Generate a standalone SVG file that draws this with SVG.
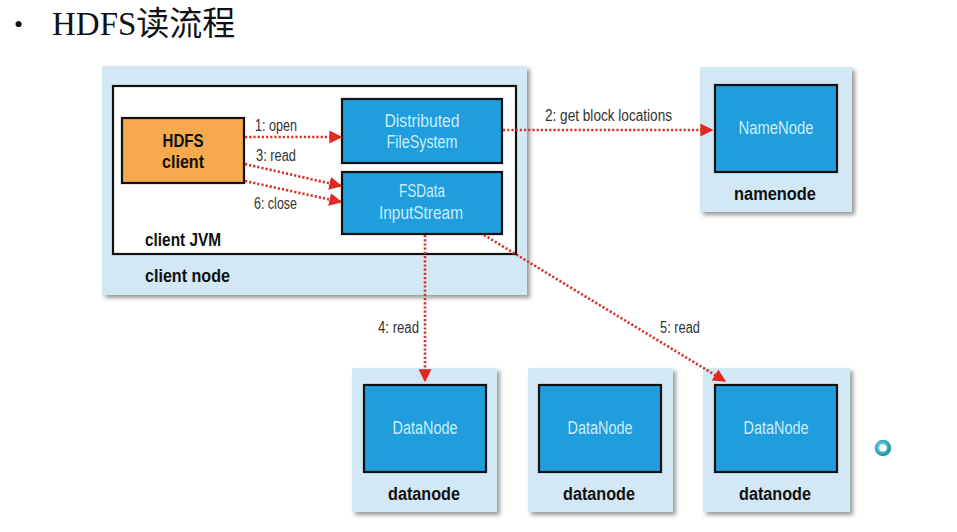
<svg xmlns="http://www.w3.org/2000/svg" width="957" height="532" viewBox="0 0 957 532">
<style>
.outer{fill:#d3e8f5;filter:url(#sh)}
.inner{fill:#1f9ddd;stroke:#111;stroke-width:2.2}
.itxt{font-family:"Liberation Sans",sans-serif;font-size:18px;fill:#c9eefb;text-anchor:middle}
.btxt{font-family:"Liberation Sans",sans-serif;font-size:18px;font-weight:bold;fill:#111}
.lbl{font-family:"Liberation Sans",sans-serif;font-size:16px;fill:#333}
.conn{stroke:#d8322c;stroke-width:2.6;stroke-dasharray:2.2 2;fill:none;marker-end:url(#ah)}
</style>
<defs>
<filter id="sh" x="-10%" y="-10%" width="130%" height="130%">
<feDropShadow dx="3" dy="3" stdDeviation="2" flood-color="#555" flood-opacity="0.6"/>
</filter>
<marker id="ah" viewBox="0 0 10 10" refX="9" refY="5" markerWidth="5" markerHeight="5" orient="auto" markerUnits="strokeWidth">
<path d="M0,0 L10,5 L0,10 z" fill="#e0291f"/>
</marker>
<radialGradient id="ring" cx="0.4" cy="0.4" r="0.7">
<stop offset="0" stop-color="#9fe3e8"/>
<stop offset="1" stop-color="#1a9aa8"/>
</radialGradient>
</defs>
<rect width="957" height="532" fill="#ffffff"/>

<g id="title">
<text x="14" y="33" font-family="Liberation Serif,serif" font-size="26" fill="#111">•</text>
<text x="52" y="35" font-family="'Liberation Serif','Noto Sans CJK SC',serif" font-size="33" fill="#111">HDFS读流程</text>
</g>

<g id="client-node">
<rect class="outer" x="102" y="66" width="425" height="229"/>
<text class="btxt" x="145" y="282" textLength="85" lengthAdjust="spacingAndGlyphs">client node</text>
</g>
<g id="client-jvm">
<rect x="113" y="86" width="403" height="168" fill="#fff" stroke="#111" stroke-width="2.2"/>
<text class="btxt" x="145" y="246" textLength="76" lengthAdjust="spacingAndGlyphs">client JVM</text>
</g>
<g id="hdfs-client">
<rect x="122" y="118" width="122" height="65" fill="#f7a94d" stroke="#111" stroke-width="2.2"/>
<text class="btxt" x="183" y="147" text-anchor="middle" fill="#2a1a08" textLength="41" lengthAdjust="spacingAndGlyphs">HDFS</text>
<text class="btxt" x="183" y="168" text-anchor="middle" fill="#2a1a08" textLength="42" lengthAdjust="spacingAndGlyphs">client</text>
</g>
<g id="distributed-fs">
<rect class="inner" x="342" y="99" width="160" height="64"/>
<text class="itxt" x="422" y="127" textLength="75" lengthAdjust="spacingAndGlyphs">Distributed</text>
<text class="itxt" x="422" y="148" textLength="71" lengthAdjust="spacingAndGlyphs">FileSystem</text>
</g>
<g id="fsdata-inputstream">
<rect class="inner" x="342" y="172" width="160" height="62"/>
<text class="itxt" x="422" y="197" textLength="46" lengthAdjust="spacingAndGlyphs">FSData</text>
<text class="itxt" x="421" y="219" textLength="84" lengthAdjust="spacingAndGlyphs">InputStream</text>
</g>

<g id="namenode">
<rect class="outer" x="700" y="67" width="152" height="145"/>
<rect class="inner" x="715" y="85" width="122" height="87"/>
<text class="itxt" x="776" y="134" textLength="75" lengthAdjust="spacingAndGlyphs">NameNode</text>
<text class="btxt" x="775" y="200" text-anchor="middle" textLength="82" lengthAdjust="spacingAndGlyphs">namenode</text>
</g>

<g id="datanode1">
<rect class="outer" x="352" y="368" width="145" height="144"/>
<rect class="inner" x="364" y="385" width="122" height="87"/>
<text class="itxt" x="425" y="434" textLength="65" lengthAdjust="spacingAndGlyphs">DataNode</text>
<text class="btxt" x="424" y="500" text-anchor="middle" textLength="72" lengthAdjust="spacingAndGlyphs">datanode</text>
</g>
<g id="datanode2">
<rect class="outer" x="528" y="368" width="145" height="144"/>
<rect class="inner" x="539" y="385" width="122" height="87"/>
<text class="itxt" x="600" y="434" textLength="65" lengthAdjust="spacingAndGlyphs">DataNode</text>
<text class="btxt" x="599" y="500" text-anchor="middle" textLength="72" lengthAdjust="spacingAndGlyphs">datanode</text>
</g>
<g id="datanode3">
<rect class="outer" x="703" y="368" width="147" height="144"/>
<rect class="inner" x="715" y="385" width="122" height="87"/>
<text class="itxt" x="776" y="434" textLength="65" lengthAdjust="spacingAndGlyphs">DataNode</text>
<text class="btxt" x="775" y="500" text-anchor="middle" textLength="72" lengthAdjust="spacingAndGlyphs">datanode</text>
</g>

<g id="connectors">
<line class="conn" x1="245" y1="137" x2="341" y2="137"/>
<line class="conn" x1="245" y1="164" x2="341" y2="186"/>
<line class="conn" x1="245" y1="181" x2="341" y2="202"/>
<line class="conn" x1="503" y1="130" x2="712" y2="130"/>
<line class="conn" x1="425" y1="235" x2="425" y2="381"/>
<line class="conn" x1="484" y1="235" x2="725" y2="381"/>
<text class="lbl" x="255" y="131" textLength="42" lengthAdjust="spacingAndGlyphs">1: open</text>
<text class="lbl" x="256" y="161" textLength="40" lengthAdjust="spacingAndGlyphs">3: read</text>
<text class="lbl" x="254" y="209" textLength="43" lengthAdjust="spacingAndGlyphs">6: close</text>
<text class="lbl" x="545" y="121" textLength="127" lengthAdjust="spacingAndGlyphs">2: get block locations</text>
<text class="lbl" x="378" y="333" textLength="41" lengthAdjust="spacingAndGlyphs">4: read</text>
<text class="lbl" x="660" y="333" textLength="40" lengthAdjust="spacingAndGlyphs">5: read</text>
</g>

<g id="icon">
<circle cx="883" cy="448" r="6" fill="none" stroke="url(#ring)" stroke-width="4.5"/>
</g>
</svg>
